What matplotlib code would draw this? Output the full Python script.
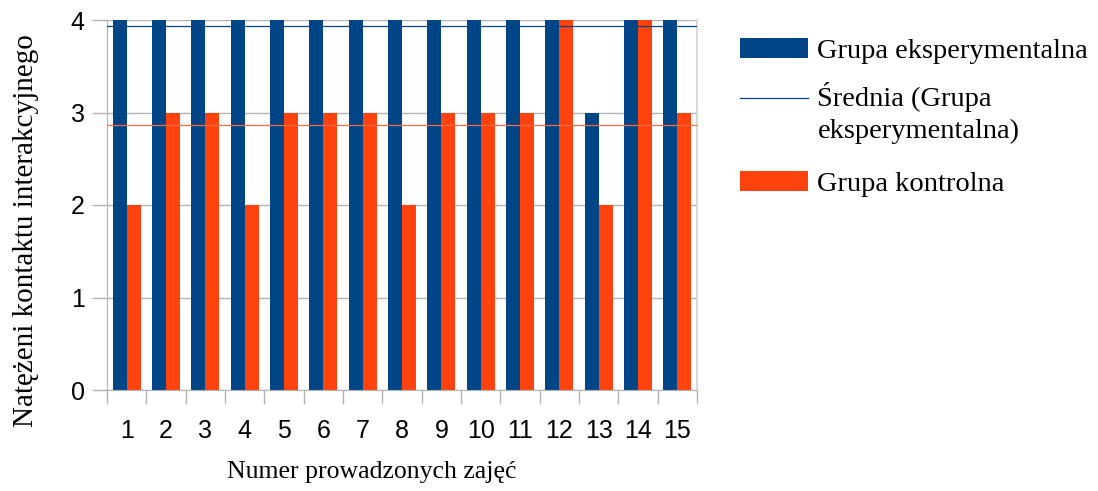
import numpy as np
import matplotlib
matplotlib.use('Agg')
import matplotlib.pyplot as plt
from matplotlib.legend_handler import HandlerLine2D

# dane z wykresu
zajecia = [str(i) for i in range(1, 16)]
eksperymentalna = [4, 4, 4, 4, 4, 4, 4, 4, 4, 4, 4, 4, 3, 4, 4]
kontrolna = [2, 3, 3, 2, 3, 3, 3, 2, 3, 3, 3, 4, 2, 4, 3]

niebieski = '#004586'
pomaranczowy = '#ff420e'
szary = '#b3b3b3'


# linia sredniej w legendzie na wysokosci pierwszego wiersza opisu
class LiniaGorna(HandlerLine2D):
    def create_artists(self, legend, orig_handle, xdescent, ydescent, width, height, fontsize, trans):
        art = super().create_artists(legend, orig_handle, xdescent, ydescent, width, height, fontsize, trans)
        for a in art:
            a.set_ydata(np.asarray(a.get_ydata()) + 10)
        return art


fig = plt.figure(figsize=(10.98, 4.91), dpi=100)
ax = fig.add_axes([107 / 1098, 1 - 390 / 491, 590 / 1098, 370 / 491])

x = np.arange(len(zajecia))
w = 0.36
b1 = ax.bar(x - w / 2, eksperymentalna, w, color=niebieski, zorder=2)
b2 = ax.bar(x + w / 2, kontrolna, w, color=pomaranczowy, zorder=2)

# srednie
sr_eksp = np.mean(eksperymentalna)
sr_kontr = np.mean(kontrolna)
l1 = ax.axhline(sr_eksp, color=niebieski, lw=0.9, zorder=3)
ax.axhline(sr_kontr, color='#ff6a45', lw=0.9, zorder=3)

ax.set_xlim(-0.5, len(zajecia) - 0.5)
ax.set_ylim(0, 4)
ax.set_yticks([0, 1, 2, 3, 4])
ax.yaxis.grid(True, color=szary, lw=1, zorder=0)

# podzialka kategorii
ax.set_xticks(np.arange(-0.5, len(zajecia)), minor=False)
ax.set_xticklabels([])
ax.set_xticks(x, minor=True)
ax.set_xticklabels(zajecia, minor=True)
ax.tick_params(axis='x', which='major', length=10, color=szary, width=1)
ax.tick_params(axis='x', which='minor', length=0, pad=21)
ax.tick_params(axis='y', length=11, color=szary, width=1, pad=5)
for lab in ax.get_xticklabels(minor=True) + ax.get_yticklabels():
    lab.set_fontfamily(['Liberation Sans Narrow', 'Liberation Sans'])
    lab.set_fontsize(18)

ax.spines['top'].set_visible(False)
ax.spines['left'].set_color(szary)
ax.spines['bottom'].set_color(szary)
ax.spines['right'].set_color('#d9d9d9')
ax.spines['right'].set_linewidth(1.5)

ax.set_xlabel('Numer prowadzonych zajęć', fontfamily='Liberation Serif', fontsize=18.5, labelpad=13)
ax.xaxis.label.set_x(0.449)
ax.set_ylabel('Natężeni kontaktu interakcyjnego', fontfamily='Liberation Serif', fontsize=21, labelpad=23)
ax.yaxis.label.set_y(0.432)

opcje = dict(loc='upper left', frameon=False, borderpad=0, borderaxespad=0,
             handlelength=2.4, handletextpad=0.32, labelspacing=0.62,
             prop={'family': 'Liberation Serif', 'size': 20.5})
leg1 = fig.legend([b1, l1], ['Grupa eksperymentalna', 'Średnia (Grupa\neksperymentalna)'],
                  bbox_to_anchor=(740 / 1098, 1 - 38 / 491),
                  handler_map={l1: LiniaGorna()}, **opcje)
for t in leg1.get_texts():
    t.set_linespacing(1.37)
fig.legend([b2], ['Grupa kontrolna'], bbox_to_anchor=(740 / 1098, 1 - 171 / 491), **opcje)

fig.savefig('out.png', dpi=100)
